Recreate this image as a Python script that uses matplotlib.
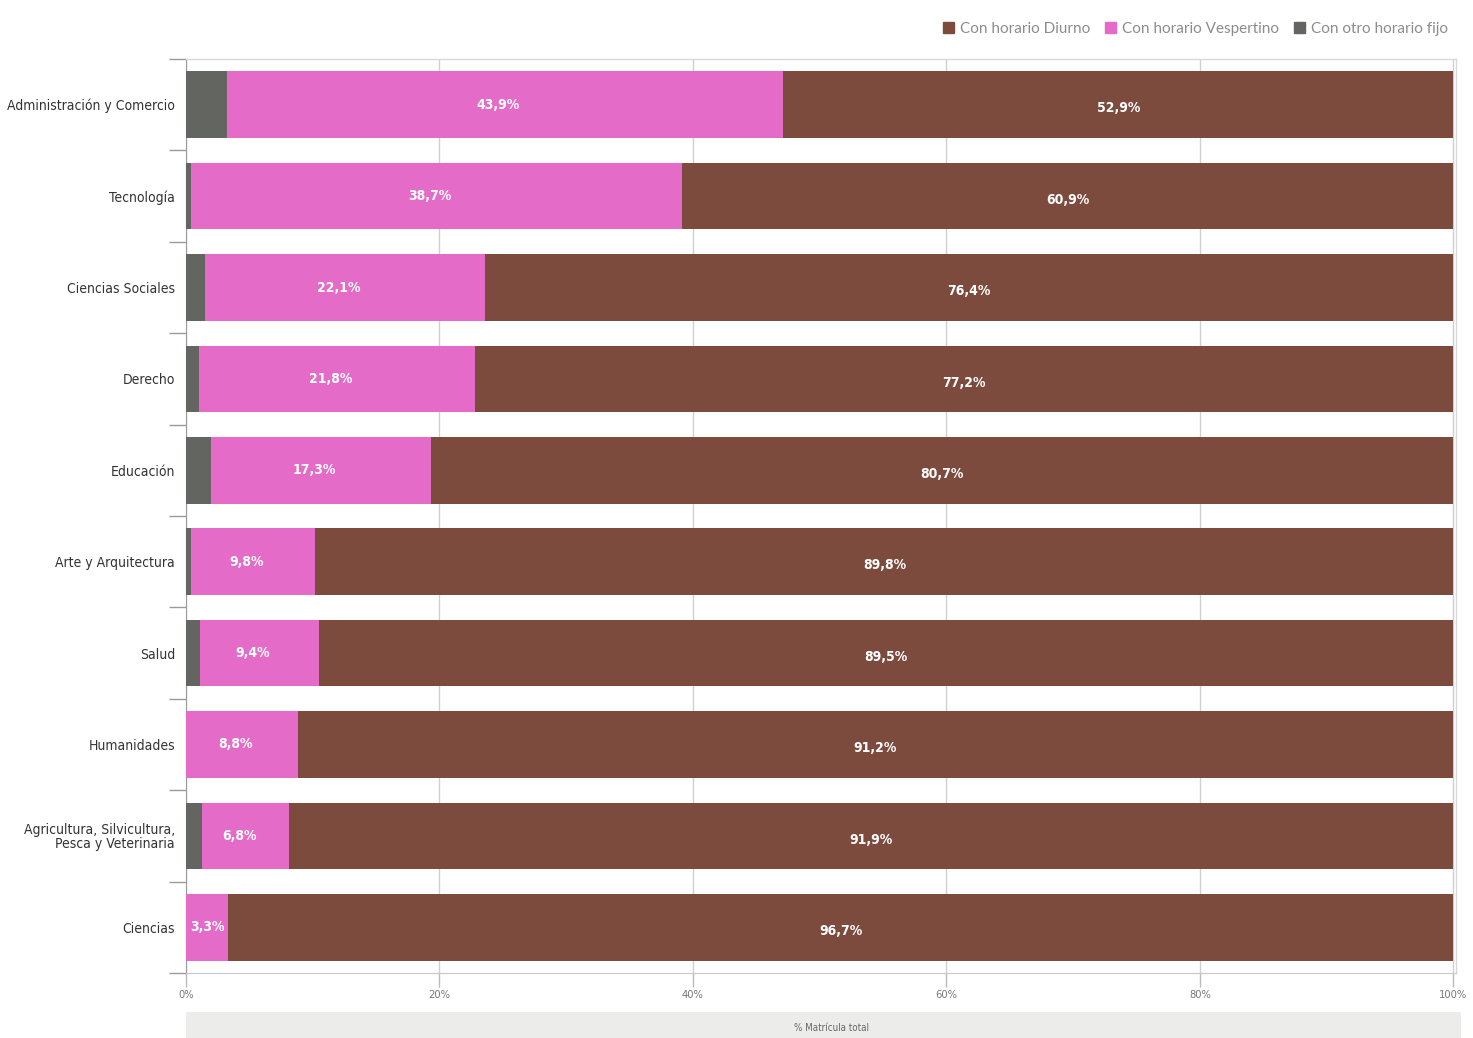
import matplotlib
matplotlib.use("Agg")
import matplotlib.pyplot as plt
from matplotlib.patches import Patch, Rectangle
import numpy as np

categories = ["Administración y Comercio", "Tecnología", "Ciencias Sociales", "Derecho",
              "Educación", "Arte y Arquitectura", "Salud", "Humanidades",
              "Agricultura, Silvicultura,\nPesca y Veterinaria", "Ciencias"]
otro = [3.2, 0.4, 1.5, 1.0, 2.0, 0.4, 1.1, 0.0, 1.3, 0.0]
vespertino = [43.9, 38.7, 22.1, 21.8, 17.3, 9.8, 9.4, 8.8, 6.8, 3.3]
diurno = [52.9, 60.9, 76.4, 77.2, 80.7, 89.8, 89.5, 91.2, 91.9, 96.7]
vesp_labels = ["43,9%", "38,7%", "22,1%", "21,8%", "17,3%", "9,8%", "9,4%", "8,8%", "6,8%", "3,3%"]
diur_labels = ["52,9%", "60,9%", "76,4%", "77,2%", "80,7%", "89,8%", "89,5%", "91,2%", "91,9%", "96,7%"]
xticks = [0, 20, 40, 60, 80, 100]
xticklabels = ["0%", "20%", "40%", "60%", "80%", "100%"]

C_DIUR = "#7d4b3e"
C_VESP = "#e46cc8"
C_OTRO = "#626560"

plt.rcParams["font.family"] = ["DejaVu Sans"]
plt.rcParams["font.stretch"] = "condensed"

fig = plt.figure(figsize=(14.73, 10.38), dpi=100)
ax = fig.add_axes([186/1473, 65/1038, 1270/1473, 914/1038])

y = np.arange(len(categories))
h = 0.73
o = np.array(otro); v = np.array(vespertino); d = np.array(diurno)
ax.barh(y, o, height=h, color=C_OTRO, zorder=3)
ax.barh(y, v, left=o, height=h, color=C_VESP, zorder=3)
ax.barh(y, d, left=o + v, height=h, color=C_DIUR, zorder=3)

for i in range(len(categories)):
    xv = max(o[i] + v[i] / 2 - 0.5, 1.7)
    ax.text(xv, y[i], vesp_labels[i], ha="center", va="center",
            color="white", fontsize=10, fontweight="bold", zorder=4)
    ax.text(o[i] + v[i] + d[i] / 2, y[i] + 0.04, diur_labels[i], ha="center", va="center",
            color="white", fontsize=10, fontweight="bold", zorder=4)

ax.set_xlim(0, 100.2)
ax.set_ylim(len(categories) - 0.5, -0.5)
ax.set_yticks(y)
ax.set_yticklabels(categories, fontsize=10, color="#333333", linespacing=1.0)
ax.tick_params(axis="y", which="major", length=0, pad=8)
ax.set_yticks(np.arange(len(categories) + 1) - 0.5, minor=True)
ax.tick_params(axis="y", which="minor", length=12, color="#9a9a9a", width=1)

ax.set_xticks(xticks)
ax.set_xticklabels(xticklabels, fontsize=8, color="#777777")
ax.tick_params(axis="x", length=10, color="#bbbbbb", width=1, pad=2)
ax.grid(axis="x", color="#cfcfcf", linewidth=1, zorder=0)

for s in ["top", "right"]:
    ax.spines[s].set_color("#d8d8d8")
    ax.spines[s].set_linewidth(1)
ax.spines["bottom"].set_color("#c8c8c8")
ax.spines["left"].set_color("#9a9a9a")

# light scanned band behind the axis title
fig.patches.append(Rectangle((186/1473, 0), 1275/1473, 26/1038, transform=fig.transFigure,
                             facecolor="#ececea", edgecolor="none", zorder=0))
fig.text(832/1473, 10/1038, "% Matrícula total", ha="center", va="center",
         fontsize=7, color="#666666")

handles = [Patch(color=C_DIUR), Patch(color=C_VESP), Patch(color=C_OTRO)]
labels = ["Con horario Diurno", "Con horario Vespertino", "Con otro horario fijo"]
fig.legend(handles, labels, loc="upper right", bbox_to_anchor=(1462/1473, 1 - 8/1038),
           ncol=3, frameon=False, labelcolor="#8c8c8c",
           handlelength=0.7, handleheight=0.7, handletextpad=0.4, columnspacing=1.0,
           prop={"family": ["Lato", "DejaVu Sans"], "size": 11})

fig.savefig("out.png", dpi=100)
